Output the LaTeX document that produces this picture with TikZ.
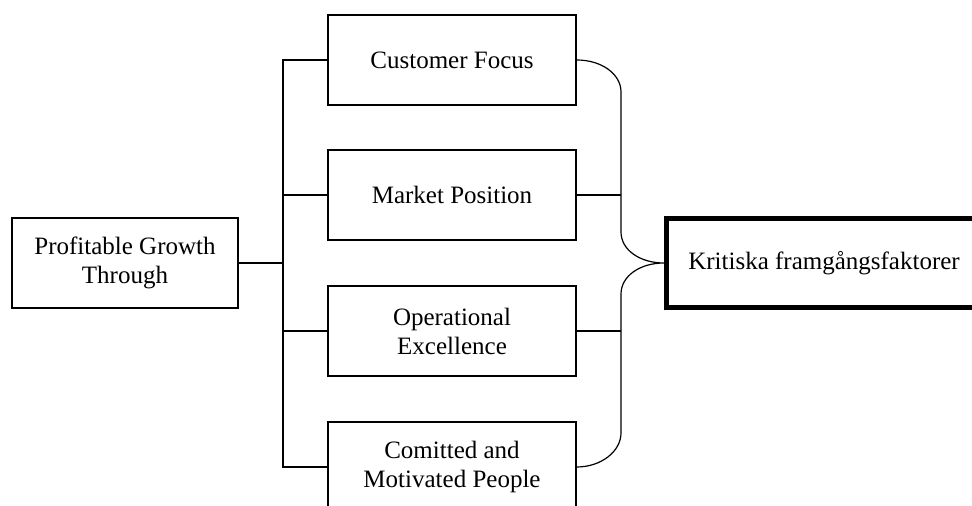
\documentclass[tikz,border=0pt]{standalone}
\usepackage{fontspec}
\setmainfont{Liberation Serif}
\begin{document}
\begin{tikzpicture}[x=0.5pt,y=-0.5pt,
  box/.style={draw,line width=0.6pt,minimum width=124pt,minimum height=45pt,align=center,inner sep=0pt,
    font=\fontsize{12.5pt}{14.5pt}\selectfont},
  conn/.style={line width=0.6pt}]
\useasboundingbox (0,0) rectangle (972,506);
\clip (0,0) rectangle (972,506);
\node[box,minimum width=113pt] (pg) at (125,263) {Profitable Growth\\Through};
\node[box] (cf) at (452,60) {Customer Focus};
\node[box] (mp) at (452,195) {Market Position};
\node[box] (oe) at (452,331) {Operational\\Excellence};
\node[box] (cm) at (452,467) {Comitted and\\Motivated People};
\node[box,line width=2.5pt,minimum width=157.5pt,minimum height=44.5pt] (kf) at (824,263) {Kritiska framgångsfaktorer};
\coordinate (jt) at (283,263);
\coordinate (br) at (621,0);
\draw[conn] (pg.east) -- (jt);
\draw[conn] (cf.west) -| (jt) |- (cm.west);
\draw[conn] (mp.west) -| (jt);
\draw[conn] (oe.west) -| (jt);
\draw[conn] (cf.east) .. controls +(25,0) and +(0,-18) .. (621,92) -- (621,232)
  .. controls +(0,18) and +(-24,0) .. (kf.west)
  .. controls +(-24,0) and +(0,-18) .. (621,294) -- (621,433)
  .. controls +(0,18) and +(25,0) .. (cm.east);
\draw[conn] (mp.east) -- (mp.east -| br);
\draw[conn] (oe.east) -- (oe.east -| br);
\end{tikzpicture}
\end{document}
